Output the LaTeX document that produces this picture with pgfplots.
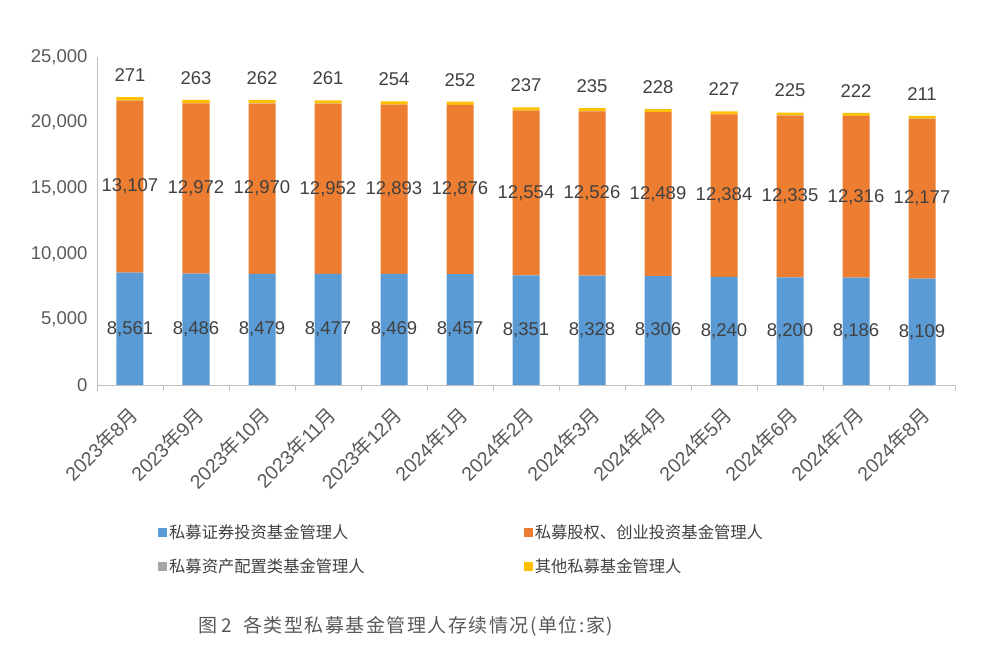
\documentclass[border=0pt]{standalone}
\usepackage{pgfplots}
\pgfplotsset{compat=1.18}
\usepackage{pgfplotstable}
\usepackage{fontspec}
\setmainfont{Liberation Sans}
\newfontfamily\cjk{Noto Sans CJK SC}
\newfontfamily\cjkcap[LetterSpace=8]{Noto Sans CJK SC}
\definecolor{cblue}{HTML}{5B9BD5}
\definecolor{corange}{HTML}{ED7D31}
\definecolor{cgray}{HTML}{A5A5A5}
\definecolor{cyellow}{HTML}{FFC000}
\definecolor{tickc}{HTML}{595959}
\definecolor{labc}{HTML}{404040}
\definecolor{axc}{HTML}{BFBFBF}
\pgfplotstableread{
x a b c d
0 8561 13107 9 271
1 8486 12972 9 263
2 8479 12970 9 262
3 8477 12952 9 261
4 8469 12893 9 254
5 8457 12876 9 252
6 8351 12554 9 237
7 8328 12526 9 235
8 8306 12489 9 228
9 8240 12384 9 227
10 8200 12335 9 225
11 8186 12316 9 222
12 8109 12177 9 211
}\data
\newcommand{\ym}[2]{#1{\cjk 年}#2{\cjk 月}}
\pgfplotsset{
  common/.style={width=858pt, height=328pt, scale only axis,
    at={(97pt,284pt)}, anchor=south west,
    xmin=-0.5, xmax=12.5, ymin=0, ymax=25000, clip=false},
  sq/.style={legend image code/.code={\fill[##1] (0pt,-4.5pt) rectangle (9pt,4.5pt);}},
}
\begin{document}
\begin{tikzpicture}[x=1pt,y=1pt]
\path[use as bounding box] (0,0) rectangle (999,669);
\begin{axis}[common, ybar stacked, bar width=27pt,
  axis x line*=bottom, axis y line*=left,
  axis line style={axc, line width=0.8pt},
  xtick={0,...,12},
  xticklabels={\ym{2023}{8},\ym{2023}{9},\ym{2023}{10},\ym{2023}{11},\ym{2023}{12},\ym{2024}{1},\ym{2024}{2},\ym{2024}{3},\ym{2024}{4},\ym{2024}{5},\ym{2024}{6},\ym{2024}{7},\ym{2024}{8}},
  minor xtick={-0.5,0.5,...,12.5},
  major tick length=0pt, minor tick length=6pt, tick align=outside,
  minor tick style={axc, line width=0.8pt},
  ytick={0,5000,...,25000}, scaled y ticks=false,
  yticklabel style={text=tickc, font=\fontsize{18.5}{22}\selectfont, xshift=-6pt},
  xticklabel shift=15pt,
  xticklabel style={xshift=-2pt, rotate=45, anchor=north east, text=tickc, font=\fontsize{19.5}{22}\selectfont},
  /pgf/number format/fixed,
  /pgf/number format/1000 sep={,},
  /pgf/number format/assume math mode=true,
  legend columns=2, legend cell align=left,
  legend style={draw=none, fill=none, at={(0.0676,-0.5015)}, anchor=west,
    font=\cjk\fontsize{16.3}{19}\selectfont, text=labc,
    /tikz/every even column/.append style={column sep=157pt}, row sep=15pt},
]
\addplot[sq, fill=cblue, draw=none] table[x=x,y=a]{\data};
\addlegendentry{私募证券投资基金管理人}
\addplot[sq, fill=corange, draw=none] table[x=x,y=b]{\data};
\addlegendentry{私募股权、创业投资基金管理人}
\addplot[sq, fill=cgray, draw=none] table[x=x,y=c]{\data};
\addlegendentry{私募资产配置类基金管理人}
\addplot[sq, fill=cyellow, draw=none] table[x=x,y=d]{\data};
\addlegendentry{其他私募基金管理人}
\end{axis}
\begin{axis}[common, hide axis, point meta=explicit,
  /pgf/number format/fixed,
  /pgf/number format/1000 sep={,},
  /pgf/number format/assume math mode=true,
  nodes near coords,
  nodes near coords style={font=\fontsize{18.5}{22}\selectfont, text=labc, anchor=center}]
\addplot[draw=none, mark=none] table[x=x, y expr=\thisrow{a}/2, meta=a]{\data};
\addplot[draw=none, mark=none] table[x=x, y expr=\thisrow{a}+\thisrow{b}/2, meta=b]{\data};
\addplot[draw=none, mark=none, nodes near coords style={yshift=22pt}] table[x=x, y expr=\thisrow{a}+\thisrow{b}+\thisrow{c}+\thisrow{d}, meta=d]{\data};
\end{axis}
\node[font=\cjkcap\fontsize{19}{22}\selectfont, text=tickc] at (406,43) {图\,2\ \ 各类型私募基金管理人存续情况(单位:家)};
\end{tikzpicture}
\end{document}
